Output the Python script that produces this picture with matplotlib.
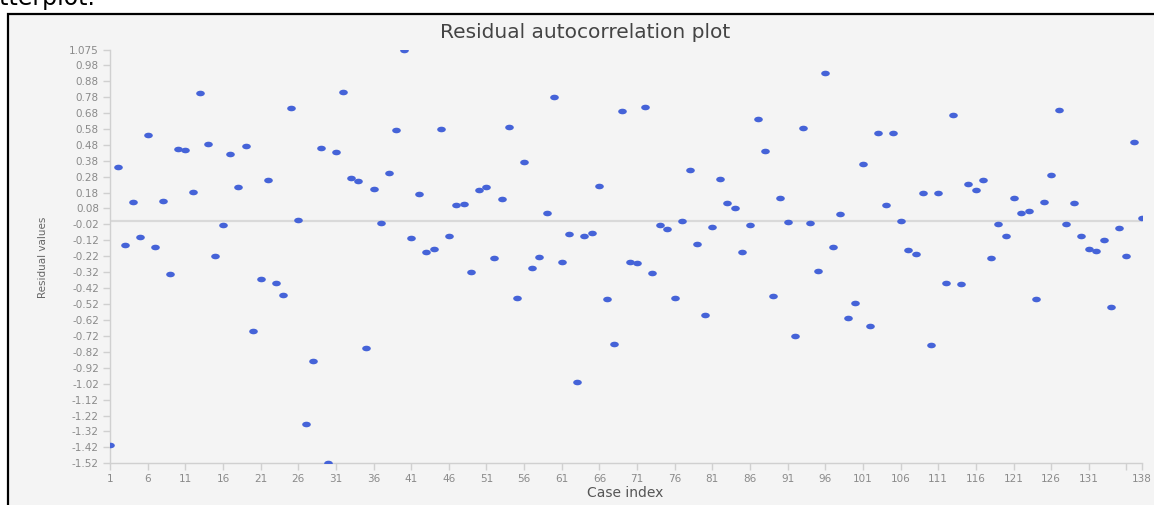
import numpy as np
import matplotlib
matplotlib.use("Agg")
import matplotlib.pyplot as plt
from matplotlib.markers import MarkerStyle
from matplotlib.transforms import Affine2D
from matplotlib.patches import Rectangle

# residual values, case index 1..138
residuals = [
    -1.405, 0.339, -0.151, 0.123, -0.097, 0.541, -0.160, 0.127, -0.333, 0.456,
    0.445, 0.186, 0.805, 0.487, -0.218, -0.022, 0.424, 0.217, 0.470, -0.687,
    -0.361, 0.259, -0.386, -0.463, 0.709, 0.010, -1.271, -0.877, 0.458, -1.52,
    0.433, 0.809, 0.271, 0.253, -0.796, 0.202, -0.009, 0.305, 0.573, 1.075,
    -0.105, 0.173, -0.195, -0.172, 0.579, -0.091, 0.100, 0.106, -0.321, 0.194,
    0.217, -0.231, 0.138, 0.594, -0.482, 0.370, -0.295, -0.222, 0.054, 0.782,
    -0.258, -0.080, -1.011, -0.091, -0.076, 0.221, -0.490, -0.773, 0.694, -0.258,
    -0.260, 0.719, -0.323, -0.025, -0.049, -0.484, 0.002, 0.320, -0.145, -0.589,
    -0.034, 0.265, 0.113, 0.083, -0.191, -0.025, 0.642, 0.441, -0.471, 0.148,
    -0.005, -0.720, 0.587, -0.009, -0.312, 0.929, -0.160, 0.046, -0.610, -0.515,
    0.357, -0.655, 0.554, 0.100, 0.554, 0.000, -0.182, -0.206, 0.175, -0.777,
    0.175, -0.386, 0.669, -0.394, 0.232, 0.194, 0.257, -0.233, -0.015, -0.095,
    0.144, 0.052, 0.064, -0.486, 0.121, 0.290, 0.696, -0.015, 0.113, -0.091,
    -0.172, -0.189, -0.116, -0.536, -0.040, -0.220, 0.500, 0.020,
]
case_index = list(range(1, len(residuals) + 1))

x_ticks = list(range(1, 137, 5)) + [138]
x_labels = [str(v) for v in x_ticks]
x_labels[-2] = ""  # 136 label is dropped in the reference (too close to 138)
y_ticks = [1.075] + [round(0.98 - 0.1 * k, 2) for k in range(26)]
y_labels = ["1.075"] + ["%.2f" % v for v in y_ticks[1:]]

W, H = 1154, 505
fig = plt.figure(figsize=(W / 100, H / 100), dpi=100)
fig.patch.set_facecolor("white")

# gray panel with the black frame (left/top edges visible)
frame = Rectangle((8.3 / W, -0.2), 1.2, 0.2 + 1 - 13.5 / H,
                  transform=fig.transFigure, facecolor="#f4f4f4",
                  edgecolor="black", linewidth=1.6, zorder=-5)
fig.patches.append(frame)

# cut-off caption above the frame
fig.text(95 / W, 1 - 5.5 / H, "Residual scatterplot.", ha="right", va="baseline",
         fontsize=17, color="black")

ax = fig.add_axes([110 / W, 1 - 463.3 / H, (1141.5 - 110) / W, (463.3 - 50) / H])
ax.set_facecolor("none")

ax.axhline(0, color="#d9d9d9", lw=1.6, zorder=1)

dot = MarkerStyle("o", transform=Affine2D().scale(1.0, 0.65))
ax.plot(case_index, residuals, linestyle="none", marker=dot, markersize=6.2,
        color="#4563d8", markeredgewidth=0, zorder=3)

ax.set_xlim(1, 138)
ax.set_ylim(-1.52, 1.075)
ax.set_xticks(x_ticks)
ax.set_xticklabels(x_labels)
ax.set_yticks(y_ticks)
ax.set_yticklabels(y_labels)

for s in ["top", "right"]:
    ax.spines[s].set_visible(False)
for s in ["left", "bottom"]:
    ax.spines[s].set_color("#d0d0d0")
    ax.spines[s].set_linewidth(1.0)

ax.tick_params(axis="both", colors="#d0d0d0", labelcolor="#8a8a8a",
               labelsize=7.5, length=5, width=1.0, pad=3)

fig.text(585 / W, 1 - 32 / H, "Residual autocorrelation plot", ha="center",
         va="center", fontsize=14.5, color="#444444")
fig.text(625 / W, 1 - 493 / H, "Case index", ha="center", va="center",
         fontsize=10, color="#555555")
fig.text(43 / W, 1 - 257 / H, "Residual values", ha="center", va="center",
         rotation=90, fontsize=7.5, color="#666666")

fig.savefig("out.png", dpi=100, facecolor=fig.get_facecolor())
